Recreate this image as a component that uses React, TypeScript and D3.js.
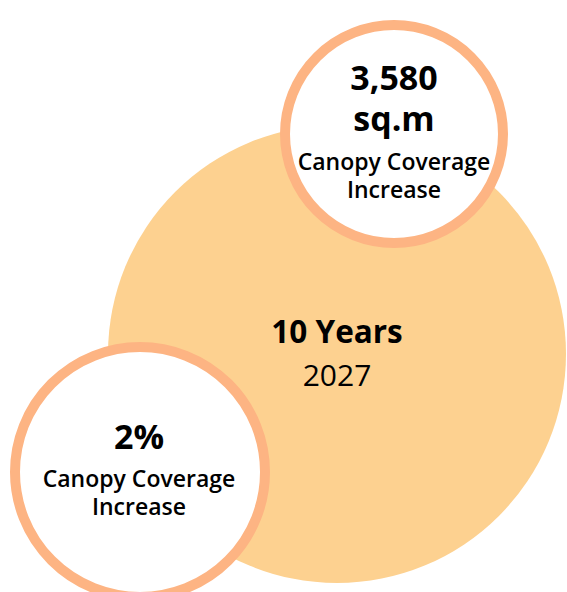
import { useEffect, useRef } from 'react'
import * as d3 from 'd3'

// bubble content
const headlines = ['10 Years', '3,580', '2%']
const subHeadlines = ['', 'sq.m', '']
const captions = ['2027', 'Canopy Coverage\nIncrease', 'Canopy Coverage\nIncrease']

const W = 567, H = 592
const FONT = '"Open Sans", "Noto Sans", sans-serif'

// layout (cx, cy, r) per bubble
const layout = [
  { cx: 337, cy: 354, r: 229, fill: '#FDD190', stroke: 'none', sw: 0 },
  { cx: 394, cy: 134, r: 109, fill: '#FFFFFF', stroke: '#FDB483', sw: 10 },
  { cx: 140, cy: 472, r: 125, fill: '#FFFFFF', stroke: '#FDB483', sw: 10 },
]

export default function App() {
  const svgRef = useRef<SVGSVGElement>(null)

  useEffect(() => {
    const svg = d3.select(svgRef.current)
    svg.selectAll('*').remove()
    svg.attr('viewBox', `0 0 ${W} ${H}`)

    const data = headlines.map((h, i) => ({
      head: h, sub: subHeadlines[i], cap: captions[i], ...layout[i],
    }))

    const g = svg.selectAll('g.bubble').data(data).join('g').attr('class', 'bubble')

    g.append('circle')
     .attr('cx', (d) => d.cx).attr('cy', (d) => d.cy).attr('r', (d) => d.r)
     .attr('fill', (d) => d.fill)
     .attr('stroke', (d) => d.stroke).attr('stroke-width', (d) => d.sw)

    const txt = (x: number, y: number, s: string, size: number, weight: number) =>
      svg.append('text')
       .attr('x', x).attr('y', y)
       .attr('text-anchor', 'middle').attr('font-family', FONT)
       .attr('font-size', size).attr('font-weight', weight).attr('fill', '#000')
       .text(s)

    // big center bubble
    const big = data[0]
    txt(big.cx, 343, big.head, 31.5, 700)
    txt(big.cx, 386, big.cap, 30, 400)

    // top-right bubble
    const tr = data[1]
    txt(tr.cx, 90, tr.head, 34, 700)
    txt(tr.cx, 131, tr.sub, 34, 700)
    tr.cap.split('\n').forEach((line, j) => txt(tr.cx, 170 + j * 28, line, 23, 600))

    // bottom-left bubble
    const bl = data[2]
    txt(bl.cx - 1, 449, bl.head, 34, 700)
    bl.cap.split('\n').forEach((line, j) => txt(bl.cx - 1, 487 + j * 28, line, 23, 600))
  }, [])

  return (
    <svg ref={svgRef} width={W} height={H}
      style={{ position: 'absolute', left: 0, top: 0, display: 'block' }} />
  )
}
